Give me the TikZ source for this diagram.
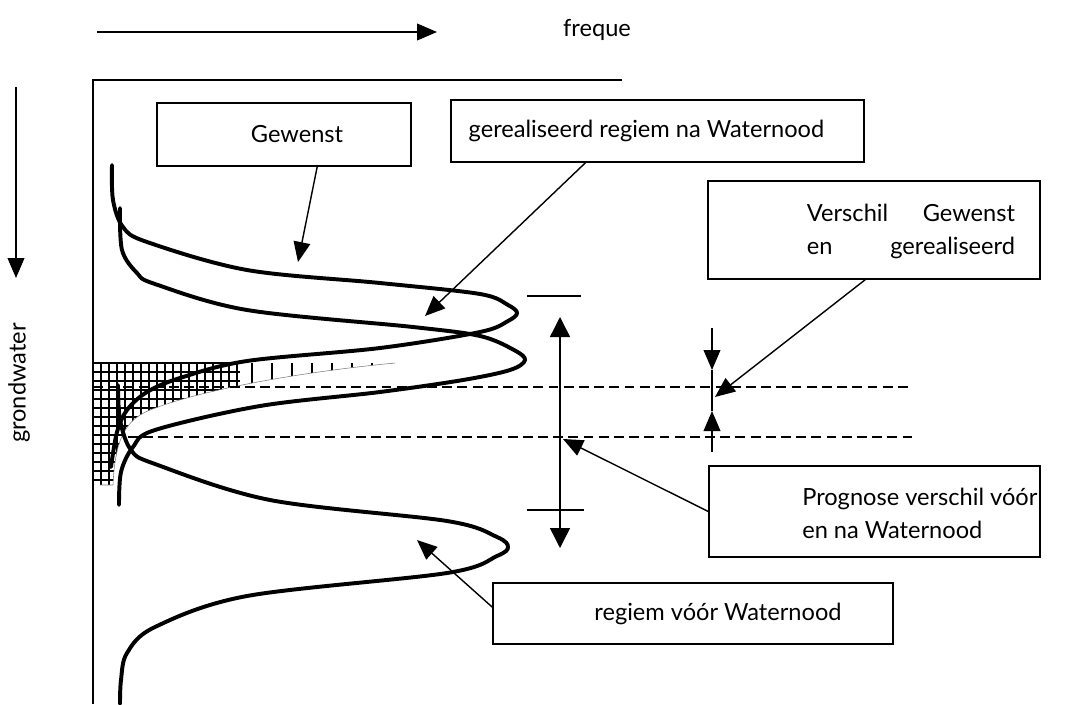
\documentclass[tikz,border=0pt]{standalone}
\usepackage{fontspec}
\setmainfont{Lato}
\usetikzlibrary{arrows.meta}
\newcommand{\lblfont}{\fontsize{16.8}{23.4}\selectfont}

\begin{document}
\begin{tikzpicture}[x=0.025cm,y=-0.025cm,
  box/.style={draw,line width=1pt,inner sep=0pt,font=\lblfont},
  txt/.style={inner sep=0pt,font=\lblfont},
  arr/.style={line width=1pt,-{Triangle[length=0.5cm,width=0.42cm]}},
  curve/.style={line width=2.8pt,line join=round,line cap=round},
  lvl/.style={line width=1pt,dash pattern=on 7pt off 3.8pt},
  hatch/.style={line width=1.05pt}]
\useasboundingbox (0,0) rectangle (1077,704);

% ------------- axes -------------
\coordinate (fa) at (97,32);
\coordinate (fb) at (437,32);
\draw[arr] (fa) -- (fb);
\node[txt] (freq) at (597,30) {freque};
\coordinate (ga) at (16,87);
\coordinate (gb) at (16,278);
\draw[arr] (ga) -- (gb);
\node[txt,rotate=90] (gw) at (19,383) {grondwater};

% ------------- hatched band -------------
\begin{scope}
  \clip (93,363) -- (395,363) .. controls (300,372) and (200,390) .. (150,410)
        .. controls (125,420) and (115,440) .. (113,485) -- (93,485) -- cycle;
  \foreach \x in {93,101,...,240} \draw[hatch] (\x,363) -- (\x,485);
  \foreach \x in {252,272,...,392} \draw[hatch] (\x,363) -- (\x,485);
  \foreach \y in {363,372,...,485} \draw[hatch] (93,\y) -- (240,\y);
\end{scope}
\draw[hatch] (93,363) -- (235,363);
\draw[gray,thin] (395,363) .. controls (300,372) and (200,390) .. (150,410)
      .. controls (125,420) and (115,440) .. (113,485) -- (100,485);

\draw[line width=1pt] (622,80) -- (93,80) -- (93,704);

% ------------- levels -------------
\draw[lvl] (93,387) -- (912,387);
\draw[lvl] (128,437) -- (915,437);

% ------------- regimes -------------
% gewenst
\draw[curve] plot[smooth,tension=0.55] coordinates {
  (112,165) (113,200) (123,227) (147,242) (247,270) (380,283) (480,294)
  (508,305) (517,313) (508,321) (480,332) (380,348) (247,361) (180,378)
  (147,392) (127,410) (117,432) (111,467)};
% na Waternood
\draw[curve] plot[smooth,tension=0.55] coordinates {
  (120,208) (122,250) (137,273) (155,284) (247,310) (413,327) (480,336)
  (514,350) (525,360) (510,370) (463,380) (380,392) (260,406) (155,430)
  (133,447) (121,472) (119,505)};
% voor Waternood
\draw[curve] plot[smooth,tension=0.55] coordinates {
  (118,385) (120,420) (131,450) (155,464) (270,500) (447,521) (497,537)
  (508,547) (497,556) (447,573) (247,596) (155,627) (127,653) (121,680)
  (120,704)};

% ------------- spans -------------
\coordinate (sa) at (560,317);
\coordinate (sb) at (560,548);
\draw[arr,{Triangle[length=0.5cm,width=0.5cm]}-{Triangle[length=0.5cm,width=0.5cm]}] (sa) -- (sb);
\draw[line width=1pt] (527,296) -- (581,296);
\draw[line width=1pt] (527,510) -- (584,510);

\coordinate (d1) at (712,328);
\coordinate (d2) at (712,370);
\coordinate (d3) at (712,411);
\coordinate (d4) at (712,452);
\draw[arr] (d1) -- (d2);
\draw[line width=1pt] (d2) -- (d3);
\draw[arr] (d4) -- (d3);

% ------------- boxes -------------
\node[box,minimum width=6.35cm,minimum height=1.575cm] (gew) at (284,134.5)
  {\hspace*{0.65cm}Gewenst};
\node[box,minimum width=10.325cm,minimum height=1.55cm] (ger) at (657.5,131)
  {gerealiseerd regiem na Waternood\hspace*{0.55cm}};
\node[box,minimum width=8.3cm,minimum height=2.45cm] (vsch) at (874,230) {};
\node[txt,text width=5.2cm,align=left] (vschtxt) at (911,231)
  {Verschil\hfill Gewenst\\en\hfill gerealiseerd};
\node[box,minimum width=8.275cm,minimum height=2.275cm] (prog) at (874.5,511.5) {};
\node[txt,align=left,anchor=west] (progtxt) at (802,513)
  {Prognose verschil vóór\\en na Waternood};
\node[box,minimum width=10cm,minimum height=1.525cm] (reg) at (693,613.5)
  {\hspace*{1.25cm}regiem vóór Waternood};

% ------------- pointers -------------
\coordinate (pgew) at (298,262);
\coordinate (pger) at (425,316);
\coordinate (pvsch) at (715,397);
\coordinate (pprog) at (563,439);
\coordinate (preg) at (417,540);
\draw[arr] ([xshift=0.83cm]gew.south) -- (pgew);
\draw[arr] ([xshift=-1.8cm]ger.south) -- (pger);
\draw[arr] ([xshift=-0.22cm]vsch.south) -- (pvsch);
\draw[arr] (prog.west) -- (pprog);
\draw[arr] ([yshift=0.16cm]reg.west) -- (preg);
\end{tikzpicture}
\end{document}
